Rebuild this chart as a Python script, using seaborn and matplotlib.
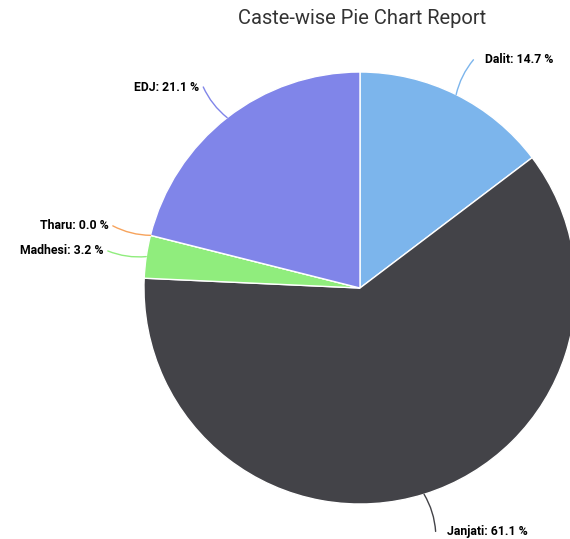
import numpy as np
import matplotlib.pyplot as plt
import seaborn as sns

# ---------------------------
# DATA
# ---------------------------
castes = ["Dalit", "Janjati", "Madhesi", "Tharu", "EDJ"]
shares = [14.7, 61.1, 3.2, 0.0, 21.1]
colors = ["#7cb5ec", "#434348", "#90ed7d", "#f7a35c", "#8085e9"]

# ---------------------------
# STYLE
# ---------------------------
sns.set_theme(style="white")
plt.rcParams["font.family"] = ["Roboto", "DejaVu Sans"]
palette = sns.color_palette(colors)

fig = plt.figure(figsize=(5.70, 5.39), dpi=100)
ax = fig.add_axes([0.2526, 0.0649, 0.7579, 0.8015])

wedges, _ = ax.pie(
    shares,
    colors=palette,
    startangle=90,
    counterclock=False,
    radius=1.0,
    wedgeprops=dict(edgecolor="white", linewidth=1),
)
ax.set_xlim(-1, 1)
ax.set_ylim(-1, 1)
ax.set_aspect("equal")
ax.axis("off")

# ---------------------------
# LABELS WITH CONNECTORS
# ---------------------------
for w, name, val, col in zip(wedges, castes, shares, colors):
    ang = np.deg2rad((w.theta1 + w.theta2) / 2)
    x0, y0 = np.cos(ang), np.sin(ang)
    x1, y1 = 1.18 * x0, 1.18 * y0
    right = x0 >= 0
    ax.annotate(
        "", xy=(x0, y0), xytext=(x1, y1),
        arrowprops=dict(arrowstyle="-", color=col, lw=1,
                        shrinkA=0, shrinkB=0,
                        connectionstyle="arc3,rad=0.12"),
        annotation_clip=False,
    )
    ax.annotate(
        f"{name}: {val:.1f} %", xy=(x1, y1),
        xytext=(8 if right else -3, 0), textcoords="offset points",
        ha="left" if right else "right", va="center",
        fontsize=8.8, fontweight="bold", color="black",
        annotation_clip=False,
    )

fig.text(0.635, 0.966, "Caste-wise Pie Chart Report", ha="center", va="center",
         fontsize=14.5, color="#333333")

fig.savefig("out.png", dpi=100)
